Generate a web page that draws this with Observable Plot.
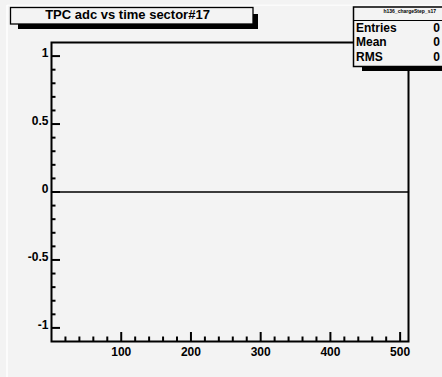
<!DOCTYPE html>
<html>
<head>
<meta charset="utf-8">
<script src="https://cdn.jsdelivr.net/npm/d3@7"></script>
<script src="https://cdn.jsdelivr.net/npm/@observablehq/plot@0.6"></script>
<style>
  html, body { margin: 0; padding: 0; background: #f3f3f3; }
  #chart { width: 442px; height: 377px; overflow: hidden; }
</style>
</head>
<body>
<div id="chart"></div>
<script>
// ---- data ----
const histName = "h136_chargeStep_s17";
const chartTitle = "TPC adc vs time sector#17";
const statLabels = ["Entries", "Mean", "RMS"];
const statValues = ["0", "0", "0"];
const binEdges = [0, 512];          // time bins (x range of the histogram)
const binContents = [0, 0];         // empty histogram: all contents 0
const xMajorTicks = [100, 200, 300, 400, 500];
const xMinorTicks = d3.range(20, 512, 20).filter(v => v % 100 !== 0);
const yMajorTicks = [-1, -0.5, 0, 0.5, 1];
const yMinorTicks = d3.range(-10, 11, 1).map(v => v / 10).filter(v => Math.round(v * 10) % 5 !== 0);
const yDomain = [-1.1, 1.1];

const W = 442, H = 377;
const mL = 51, mR = 34, mT = 42, mB = 36;
const innerW = W - mL - mR, innerH = H - mT - mB;
const font = "'Liberation Sans', Arial, Helvetica, sans-serif";

const hist = binEdges.map((x, i) => ({x, y: binContents[i]}));

const svg = Plot.plot({
  width: W, height: H,
  marginLeft: mL, marginRight: mR, marginTop: mT, marginBottom: mB,
  style: {background: "#f3f3f3", fontFamily: font, overflow: "visible"},
  x: {domain: [binEdges[0], binEdges[binEdges.length - 1]], axis: null},
  y: {domain: yDomain, axis: null},
  marks: [
    Plot.line(hist, {x: "x", y: "y", stroke: "#000", strokeWidth: 1.4}),
    // inward ticks on bottom axis
    Plot.tickX(xMajorTicks, {x: d => d, stroke: "#000", strokeWidth: 2, insetTop: innerH - 9}),
    Plot.tickX(xMinorTicks, {x: d => d, stroke: "#000", strokeWidth: 2, insetTop: innerH - 4.5}),
    // inward ticks on left axis
    Plot.tickY(yMajorTicks, {y: d => d, stroke: "#000", strokeWidth: 2, insetRight: innerW - 9}),
    Plot.tickY(yMinorTicks, {y: d => d, stroke: "#000", strokeWidth: 2, insetRight: innerW - 4.5}),
    Plot.frame({stroke: "#000", strokeWidth: 2}),
    Plot.text(xMajorTicks, {x: d => d, text: d => String(d), frameAnchor: "bottom", lineAnchor: "bottom",
      dy: 14, fontSize: 12, fontWeight: "bold", fill: "#000"}),
    Plot.text(yMajorTicks, {y: d => d, text: d => String(d), frameAnchor: "left", textAnchor: "end",
      lineAnchor: "bottom", dx: -3, dy: 1, fontSize: 12, fontWeight: "bold", fill: "#000"})
  ]
});

document.getElementById("chart").appendChild(svg);

const s = d3.select(svg);
const g = s.append("g").attr("font-family", font).attr("font-weight", "bold").attr("text-anchor", "start");

// pad border highlight
g.append("line").attr("x1", 7).attr("x2", 7).attr("y1", 5).attr("y2", H).attr("stroke", "#fff").attr("stroke-width", 1.5);
g.append("line").attr("x1", 7).attr("x2", W).attr("y1", 5.2).attr("y2", 5.2).attr("stroke", "#fff").attr("stroke-width", 1);

// title box
g.append("rect").attr("x", 18).attr("y", 14).attr("width", 240).attr("height", 15).attr("fill", "#000");
g.append("rect").attr("x", 10.5).attr("y", 7.5).attr("width", 242.5).attr("height", 16.5)
  .attr("fill", "#f3f3f3").attr("stroke", "#000").attr("stroke-width", 1.3);
g.append("text").attr("x", 127.5).attr("y", 18.7).attr("text-anchor", "middle")
  .attr("font-size", 13).attr("fill", "#000").text(chartTitle);

// stats box
g.append("rect").attr("x", 362).attr("y", 14).attr("width", 100).attr("height", 57).attr("fill", "#000");
g.append("rect").attr("x", 353.5).attr("y", 7).attr("width", 100).attr("height", 59.5)
  .attr("fill", "#f3f3f3").attr("stroke", "#000").attr("stroke-width", 1.5);
g.append("line").attr("x1", 353.5).attr("x2", W).attr("y1", 20.5).attr("y2", 20.5)
  .attr("stroke", "#000").attr("stroke-width", 1.2);
g.append("text").attr("x", 436).attr("y", 13).attr("text-anchor", "end")
  .attr("font-size", 5).attr("fill", "#000").text(histName);
const baselines = [31.7, 45.9, 60.5];
statLabels.forEach((lab, i) => {
  g.append("text").attr("x", 356).attr("y", baselines[i]).attr("text-anchor", "start")
    .attr("font-size", 12).attr("fill", "#000").text(lab);
  g.append("text").attr("x", 440).attr("y", baselines[i]).attr("text-anchor", "end")
    .attr("font-size", 12).attr("fill", "#000").text(statValues[i]);
});
</script>
</body>
</html>
